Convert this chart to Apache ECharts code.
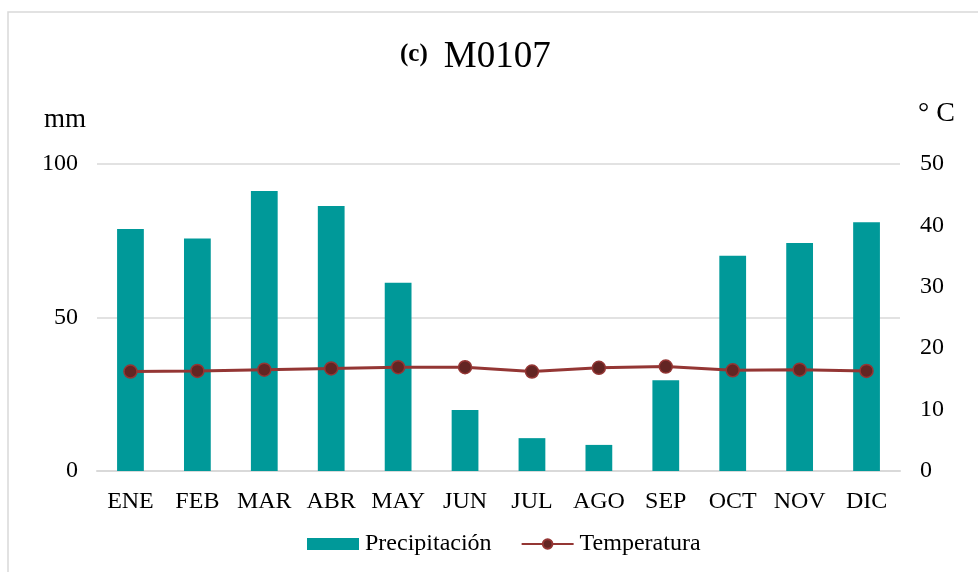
<!DOCTYPE html>
<html>
<head>
    <meta charset="utf-8">
    <title>M0107</title>
    <script src="https://cdn.jsdelivr.net/npm/echarts@6/dist/echarts.min.js"></script>
    <style>
        html, body {
            margin: 0;
            padding: 0;
            background: #ffffff;
        }

        #chart {
            width: 978px;
            height: 572px;
        }
    </style>
</head>
<body>

<div id="chart"></div>

<script type="text/javascript">
    // datos
    var meses = ['ENE', 'FEB', 'MAR', 'ABR', 'MAY', 'JUN', 'JUL', 'AGO', 'SEP', 'OCT', 'NOV', 'DIC'];
    var precipitacion = [78.8, 75.7, 91.2, 86.3, 61.3, 19.9, 10.7, 8.5, 29.6, 70.1, 74.3, 81.0];
    var temperatura = [16.2, 16.3, 16.5, 16.7, 16.9, 16.9, 16.2, 16.8, 17.0, 16.4, 16.5, 16.3];

    var fuente = '"Liberation Serif", "DejaVu Serif", serif';

    var myChart = echarts.init(document.getElementById('chart'));
    var option = {
        backgroundColor: '#ffffff',
        animation: false,
        textStyle: {
            fontFamily: fuente,
            color: '#000000'
        },
        title: {
            text: '{b|(c)}{n|M0107}',
            left: 395,
            top: 34,
            textStyle: {
                fontWeight: 'normal',
                rich: {
                    b: {fontFamily: fuente, fontSize: 25, fontWeight: 'bold', color: '#000', padding: [0, 16, 6, 0]},
                    n: {fontFamily: fuente, fontSize: 37, fontWeight: 'normal', color: '#000'}
                }
            }
        },
        // marco del gráfico
        graphic: [{
            type: 'polyline',
            shape: {points: [[8, 572], [8, 12], [978, 12]]},
            style: {stroke: '#d9d9d9', lineWidth: 1.5, fill: null},
            silent: true
        }],
        legend: {
            bottom: 11,
            left: 302,
            itemGap: 29,
            itemWidth: 52,
            itemHeight: 12,
            textStyle: {fontFamily: fuente, fontSize: 24, color: '#000', padding: [0, 0, 0, 1]},
            data: [
                {name: 'Precipitación', icon: 'rect'},
                {name: 'Temperatura'}
            ]
        },
        grid: {
            left: 97,
            right: 78,
            top: 164,
            bottom: 101
        },
        xAxis: {
            type: 'category',
            data: meses,
            axisLine: {lineStyle: {color: '#d9d9d9', width: 2}},
            axisTick: {show: false},
            axisLabel: {fontFamily: fuente, fontSize: 24, color: '#000', margin: 19, interval: 0}
        },
        yAxis: [
            {
                type: 'value',
                name: 'mm',
                nameLocation: 'end',
                nameGap: 31,
                nameTextStyle: {fontFamily: fuente, fontSize: 27, color: '#000', align: 'right', padding: [0, 11, 0, 0]},
                min: 0,
                max: 100,
                interval: 50,
                axisLine: {show: false},
                axisTick: {show: false},
                axisLabel: {fontFamily: fuente, fontSize: 24, color: '#000', margin: 19},
                splitLine: {lineStyle: {color: '#d9d9d9', width: 1.5}}
            },
            {
                type: 'value',
                name: '° C',
                nameLocation: 'end',
                nameGap: 36,
                nameTextStyle: {fontFamily: fuente, fontSize: 28, color: '#000', align: 'left', padding: [0, 0, 0, 18]},
                min: 0,
                max: 50,
                interval: 10,
                position: 'right',
                axisLine: {show: false},
                axisTick: {show: false},
                axisLabel: {fontFamily: fuente, fontSize: 24, color: '#000', margin: 20},
                splitLine: {show: false}
            }
        ],
        series: [
            {
                name: 'Precipitación',
                type: 'bar',
                yAxisIndex: 0,
                data: precipitacion,
                barWidth: '40%',
                itemStyle: {color: '#009999'}
            },
            {
                name: 'Temperatura',
                type: 'line',
                yAxisIndex: 1,
                data: temperatura,
                symbol: 'circle',
                symbolSize: 13,
                lineStyle: {color: '#943634', width: 3},
                itemStyle: {color: '#632523', borderColor: '#943634', borderWidth: 1.5}
            }
        ]
    };
    myChart.setOption(option);
</script>

</body>
</html>
